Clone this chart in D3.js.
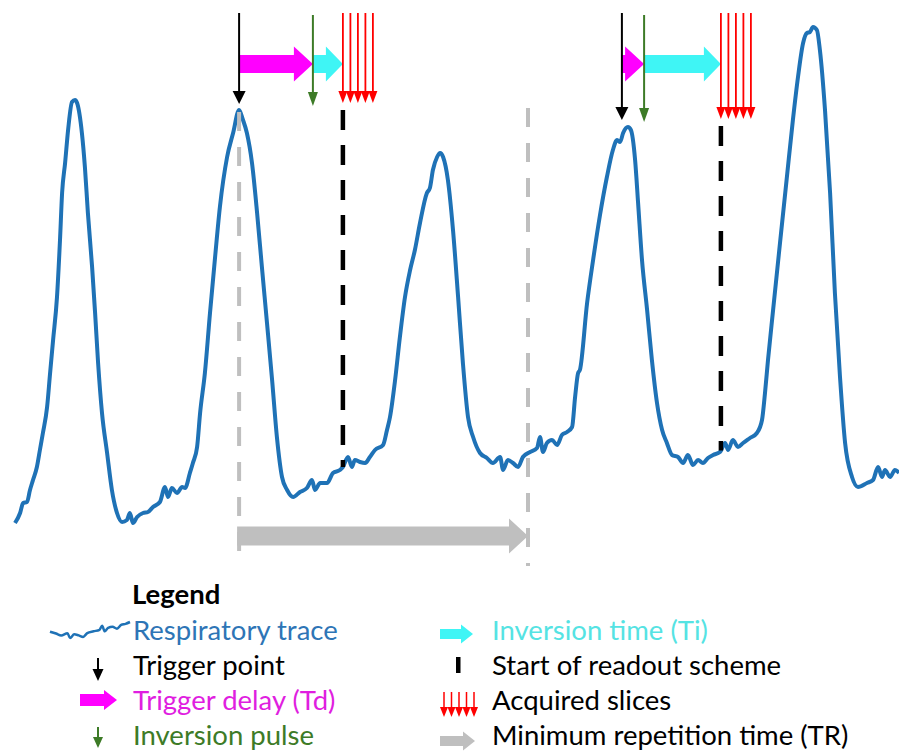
<!DOCTYPE html>
<html>
<head>
<meta charset="utf-8">
<script src="https://cdn.jsdelivr.net/npm/d3@7"></script>
<style>
  body { margin: 0; background: #fff; }
  svg { display: block; font-family: Lato, 'Open Sans', sans-serif; }
</style>
</head>
<body>
<div id="chart"></div>
<script>
// respiratory trace, [time (s), amplitude (a.u.)]
var respTrace = [
  [0.50,7.4],[0.67,9.4],[0.77,11.4],[0.90,11.6],[1.00,14],[1.10,16],[1.23,18.6],[1.33,22],[1.43,25.4],[1.57,30.6],
  [1.67,37.4],[1.77,44],[1.90,52.6],[2.00,64],[2.07,73.4],[2.17,79.4],[2.27,86],[2.40,91.6],[2.50,92],[2.57,91.4],
  [2.73,85.4],[2.83,78.6],[2.93,69.4],[3.07,58.6],[3.17,49.4],[3.27,39.4],[3.40,29.4],[3.57,21.4],[3.73,14],[3.90,9.4],
  [4.07,7.6],[4.23,8],[4.33,9.4],[4.43,7.4],[4.57,8.6],[4.77,9.4],[4.93,9.6],[5.10,10.6],[5.33,11.6],[5.50,14.6],
  [5.60,12.6],[5.73,14.4],[5.90,13.4],[6.07,14.6],[6.17,14.4],[6.33,17.4],[6.43,19.4],[6.57,22.6],[6.67,29.4],[6.83,37.4],
  [7.00,49.4],[7.17,60.6],[7.33,70.6],[7.57,80.6],[7.77,85.4],[7.97,90],[8.10,88],[8.23,85.4],[8.40,79.4],[8.57,69.4],
  [8.73,58.6],[8.90,47.4],[9.07,36],[9.23,24.6],[9.40,16.6],[9.57,14],[9.77,12.6],[10.00,13.6],[10.23,14.4],[10.40,16],
  [10.50,14],[10.67,15.4],[10.90,15.4],[11.10,17.4],[11.33,18],[11.43,18.6],[11.60,20.6],[11.73,18.6],[11.83,20],[12.00,19.6],
  [12.17,19.4],[12.33,20.6],[12.50,22],[12.77,23],[12.90,26],[13.00,28.6],[13.17,36],[13.33,44.6],[13.50,52.6],[13.67,58],
  [13.83,62],[14.00,67.4],[14.23,73.4],[14.33,74.4],[14.43,78],[14.57,80.6],[14.67,81.4],[14.77,80.6],[14.93,76],[15.10,66],
  [15.27,52.6],[15.43,39.4],[15.60,28.6],[15.77,24.6],[16.00,21.4],[16.23,20.4],[16.43,19.4],[16.67,20.6],[16.77,18],[16.93,20],
  [17.10,19.4],[17.27,18.6],[17.43,20.6],[17.67,21.6],[17.90,22.4],[18.00,24.6],[18.10,21.6],[18.23,23.4],[18.40,24],[18.57,23],
  [18.73,25],[18.90,25.6],[19.07,26.6],[19.17,32.6],[19.27,37.4],[19.33,38],[19.57,51.4],[19.77,60],[20.00,69],[20.23,76.6],
  [20.43,82],[20.57,84],[20.67,83.6],[20.77,85.4],[20.93,86.6],[21.03,86],[21.17,80],[21.27,71.4],[21.40,60],[21.57,50],
  [21.73,40],[21.90,31.4],[22.07,26],[22.23,23.4],[22.40,21],[22.60,20.6],[22.77,19.4],[22.93,21],[23.10,19],[23.27,20],
  [23.43,19.4],[23.60,20.4],[23.77,21],[24.00,21.6],[24.17,23.4],[24.27,22],[24.43,24],[24.60,22.6],[24.77,23.4],[25.00,24.4],
  [25.23,25.4],[25.40,28],[25.50,33.4],[25.60,40],[25.77,50],[26.00,63.4],[26.23,76.6],[26.43,88],[26.60,96.6],[26.77,103.4],
  [26.90,105.4],[27.00,105.6],[27.10,106.6],[27.23,106],[27.33,102],[27.50,90],[27.67,73.4],[27.83,53.4],[28.00,36.6],[28.17,23.4],
  [28.40,16.6],[28.60,14.6],[28.90,15.4],[29.10,16],[29.27,18.6],[29.40,16.6],[29.50,18],[29.67,16.6],[29.83,18],[29.97,17.4]
];

// acquisition events (s)
var triggerTimes = [7.97, 20.73];
var inversionTimes = [10.43, 21.47];
var readoutTimes = [11.43, 24.03];
var sliceOffsets = [0, 0.25, 0.5, 0.75, 1.0];
var minTR = 9.63;

var legendLeft = ['Respiratory trace', 'Trigger point', 'Trigger delay (Td)', 'Inversion pulse'];
var legendRight = ['Inversion time (Ti)', 'Start of readout scheme', 'Acquired slices', 'Minimum repetition time (TR)'];

var W = 899, H = 753;
var col = {
  trace: '#1f72b6', traceText: '#2e75b6', magenta: '#ff00ff', magentaText: '#e01ee0',
  cyan: '#3ff5f5', cyanText: '#55e3e3', green: '#3d7b27', red: '#ff0000', gray: '#bfbfbf'
};

var svg = d3.select('#chart').append('svg')
  .attr('width', W)
  .attr('height', H);

var x = d3.scaleLinear().domain([0, 30]).range([0, 900]);
var y = d3.scaleLinear().domain([0, 112]).range([560, 0]);

var ampAt = function(t) {
  var i = d3.bisector(function(d) { return d[0]; }).left(respTrace, t);
  var a = respTrace[i - 1], b = respTrace[i];
  return a[1] + (b[1] - a[1]) * (t - a[0]) / (b[0] - a[0]);
};

function downArrow(g, cx, y0, y1, color, sw, hw, hl) {
  g.append('line')
    .attr('x1', cx).attr('x2', cx)
    .attr('y1', y0).attr('y2', y1 - hl + 1)
    .attr('stroke', color).attr('stroke-width', sw);
  g.append('path')
    .attr('d', 'M' + (cx - hw / 2) + ',' + (y1 - hl) + 'L' + (cx + hw / 2) + ',' + (y1 - hl) + 'L' + cx + ',' + y1 + 'Z')
    .attr('fill', color);
}

function blockArrow(g, x0, x1, yc, bh, hh, hl, color) {
  var xh = x1 - hl;
  g.append('path')
    .attr('d', 'M' + x0 + ',' + (yc - bh / 2) + 'L' + xh + ',' + (yc - bh / 2) + 'L' + xh + ',' + (yc - hh / 2) +
      'L' + x1 + ',' + yc + 'L' + xh + ',' + (yc + hh / 2) + 'L' + xh + ',' + (yc + bh / 2) +
      'L' + x0 + ',' + (yc + bh / 2) + 'Z')
    .attr('fill', color);
}

// trace
var line = d3.line()
  .x(function(d) { return x(d[0]); })
  .y(function(d) { return y(d[1]); })
  .curve(d3.curveMonotoneX);

svg.append('path')
  .datum(respTrace)
  .attr('fill', 'none')
  .attr('stroke', col.trace)
  .attr('stroke-width', 4)
  .attr('stroke-linejoin', 'round')
  .attr('d', line);

// minimum TR: dashed grey bounds and arrow
var g = svg.append('g');
[triggerTimes[0], triggerTimes[0] + minTR].forEach(function(t, i) {
  g.append('line')
    .attr('x1', x(t)).attr('x2', x(t))
    .attr('y1', i === 0 ? 112 : 108).attr('y2', 566)
    .attr('stroke', col.gray).attr('stroke-width', 4)
    .attr('stroke-dasharray', '19,16');
});
blockArrow(g, x(triggerTimes[0]) - 2, x(triggerTimes[0] + minTR), 536, 19, 35, 19, col.gray);

// per cycle annotations
var tipY = [104, 120];
triggerTimes.forEach(function(t, i) {
  var c = svg.append('g');
  var tip = tipY[i];
  // readout start (dashed black) down to trace
  c.append('line')
    .attr('x1', x(readoutTimes[i])).attr('x2', x(readoutTimes[i]))
    .attr('y1', tip + 6).attr('y2', y(ampAt(readoutTimes[i])))
    .attr('stroke', '#000').attr('stroke-width', 4.5)
    .attr('stroke-dasharray', '20,15');
  blockArrow(c, x(t), x(inversionTimes[i]), 64, 18, 35, 19, col.magenta);
  blockArrow(c, x(inversionTimes[i]), x(readoutTimes[i]), 64, 18, 35, 17, col.cyan);
  downArrow(c, x(t), 13, tip, '#000', 2, 13, 13);
  downArrow(c, x(inversionTimes[i]), 15, tip + 2, col.green, 2, 10, 14);
  sliceOffsets.forEach(function(o) {
    downArrow(c, x(readoutTimes[i] + o), 13, tip - 1, col.red, 1.8, 9, 12);
  });
});

// legend
var lg = svg.append('g').attr('font-size', 27.5);
lg.append('text')
  .attr('x', 132).attr('y', 604)
  .attr('font-weight', 'bold')
  .text('Legend');

var rowY = [640, 675, 710, 745];
var leftColors = [col.traceText, '#000', col.magentaText, col.green];
var rightColors = [col.cyanText, '#000', '#000', '#000'];

legendLeft.forEach(function(s, i) {
  lg.append('text').attr('x', 133).attr('y', rowY[i]).attr('fill', leftColors[i]).text(s);
});
legendRight.forEach(function(s, i) {
  lg.append('text').attr('x', 492).attr('y', rowY[i]).attr('fill', rightColors[i]).text(s);
});

// legend glyphs
var snip = respTrace.filter(function(d) { return d[0] >= 15.9 && d[0] <= 19.1; });
var sx = d3.scaleLinear().domain(d3.extent(snip, function(d) { return d[0]; })).range([50, 130]);
var sy = d3.scaleLinear().domain(d3.extent(snip, function(d) { return d[1]; })).range([638, 622]);
lg.append('path')
  .datum(snip)
  .attr('fill', 'none')
  .attr('stroke', col.trace)
  .attr('stroke-width', 2.5)
  .attr('d', d3.line().curve(d3.curveMonotoneX).x(function(d) { return sx(d[0]); }).y(function(d) { return sy(d[1]); }));

downArrow(lg, 98, 658, 681, '#000', 2, 11, 12);
blockArrow(lg, 80, 117, 700, 12, 20, 13, col.magenta);
downArrow(lg, 98, 727, 748, col.green, 2, 10, 11);

blockArrow(lg, 440, 473, 634, 10, 19, 12, col.cyan);
lg.append('rect').attr('x', 456).attr('y', 657).attr('width', 4.5).attr('height', 16).attr('fill', '#000');
sliceOffsets.forEach(function(o, k) {
  downArrow(lg, 444 + k * 7.5, 692, 717, col.red, 1.5, 8, 10);
});
blockArrow(lg, 440, 475, 741, 10, 19, 12, col.gray);
</script>
</body>
</html>
